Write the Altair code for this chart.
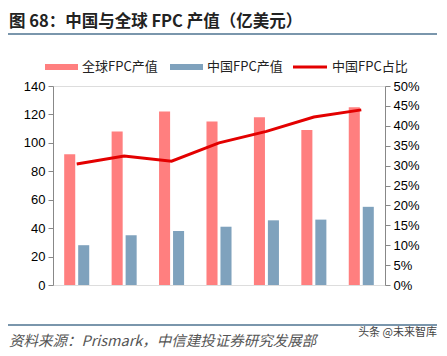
import altair as alt
import pandas as pd

years = ["2011", "2012", "2013", "2014", "2015", "2016", "2017"]
global_fpc = [92, 108, 122, 115, 118, 109, 125]
china_fpc = [28, 35, 38, 41, 45.5, 46, 55]
china_share = [0.304, 0.324, 0.311, 0.357, 0.386, 0.422, 0.44]

s_global = "全球FPC产值"
s_china = "中国FPC产值"
s_share = "中国FPC占比"

title_text = "图 68：中国与全球 FPC 产值（亿美元）"
source_text = "资料来源：Prismark，中信建投证券研究发展部"
mark_text = "头条 @未来智库"

C_GLOBAL = "#FF7F7F"
C_CHINA = "#7FA2BD"
C_LINE = "#E30000"
C_RULE = "#4E7390"
FONT = "Liberation Sans"
CJK = "Noto Sans CJK SC"

bars = pd.DataFrame({
    "year": years * 2,
    "series": [s_global] * 7 + [s_china] * 7,
    "value": global_fpc + china_fpc,
})
line_df = pd.DataFrame({"year": years, "share": china_share})

W, H = 332, 199

xscale = alt.Scale(domain=years, paddingInner=0, paddingOuter=0)
xaxis = alt.Axis(title=None, tickBand="extent", labelFont=FONT, labelFontSize=13,
                 labelColor="#000", domainColor="#888", tickColor="#888",
                 tickSize=5, labelPadding=6, labelAngle=0, grid=False)

bar = alt.Chart(bars).mark_bar().encode(
    x=alt.X("year:N", scale=xscale, axis=xaxis),
    xOffset=alt.XOffset("series:N", sort=[s_global, s_china],
                        scale=alt.Scale(domain=[s_global, s_china], paddingInner=0.21, paddingOuter=0.8)),
    y=alt.Y("value:Q", scale=alt.Scale(domain=[0, 140], nice=False),
            axis=alt.Axis(title=None, values=list(range(0, 141, 20)), labelFont=FONT,
                          labelFontSize=13, labelColor="#000", domainColor="#888",
                          tickColor="#888", tickSize=5, grid=False, labelPadding=3)),
    color=alt.Color("series:N", scale=alt.Scale(domain=[s_global, s_china], range=[C_GLOBAL, C_CHINA]),
                    legend=None),
)

line = alt.Chart(line_df).mark_line(color=C_LINE, strokeWidth=3).encode(
    x=alt.X("year:N", scale=xscale, axis=None),
    y=alt.Y("share:Q", scale=alt.Scale(domain=[0, 0.5], nice=False),
            axis=alt.Axis(title=None, orient="right", values=[i * 0.05 for i in range(11)],
                          format=".0%", labelFont=FONT, labelFontSize=13, labelColor="#000",
                          domainColor="#888", tickColor="#888", tickSize=5, grid=False,
                          labelPadding=3)),
)

one = pd.DataFrame({"a": [0]})
base = alt.Chart(one)

title = base.mark_text(text=title_text, font=CJK, fontSize=16.5, fontWeight="bold",
                       align="left", baseline="alphabetic", color="#222").encode(
    x=alt.value(-44), y=alt.value(-59))
top_rule = base.mark_rule(color=C_RULE, strokeWidth=1.5).encode(
    x=alt.value(-60), x2=alt.value(384), y=alt.value(-52))
bot_rule = base.mark_rule(color=C_RULE, strokeWidth=1.5).encode(
    x=alt.value(-60), x2=alt.value(384), y=alt.value(239))
source = base.mark_text(text=source_text, font=CJK, fontSize=14.5, fontStyle="italic",
                        align="left", baseline="alphabetic", color="#555").encode(
    x=alt.value(-44), y=alt.value(260))
wm = base.mark_text(text=mark_text, font=CJK, fontSize=11, align="right",
                    baseline="alphabetic", color="#444").encode(
    x=alt.value(384), y=alt.value(250))

# legend
leg_y = -19
lg1 = base.mark_rect(color=C_GLOBAL).encode(x=alt.value(-8), x2=alt.value(25),
                                            y=alt.value(leg_y - 3), y2=alt.value(leg_y + 3))
lg2 = base.mark_rect(color=C_CHINA).encode(x=alt.value(117), x2=alt.value(150),
                                           y=alt.value(leg_y - 3), y2=alt.value(leg_y + 3))
lg3 = base.mark_rule(color=C_LINE, strokeWidth=3).encode(x=alt.value(240), x2=alt.value(274),
                                                         y=alt.value(leg_y))
lt = dict(font=CJK, fontSize=13, align="left", baseline="middle", color="#222")
lt1 = base.mark_text(text=s_global, **lt).encode(x=alt.value(29), y=alt.value(leg_y))
lt2 = base.mark_text(text=s_china, **lt).encode(x=alt.value(154), y=alt.value(leg_y))
lt3 = base.mark_text(text=s_share, **lt).encode(x=alt.value(279), y=alt.value(leg_y))

chart = alt.layer(bar, line, title, top_rule, bot_rule, source, wm,
                  lg1, lg2, lg3, lt1, lt2, lt3).resolve_scale(y="independent").properties(
    width=W, height=H,
    autosize=alt.AutoSizeParams(type="none"),
    padding={"left": 45, "top": 78, "right": 54, "bottom": 70},
).configure_view(stroke=None).configure(background="white")

chart.save("out.html", embed_options={"renderer": "svg", "actions": False})
